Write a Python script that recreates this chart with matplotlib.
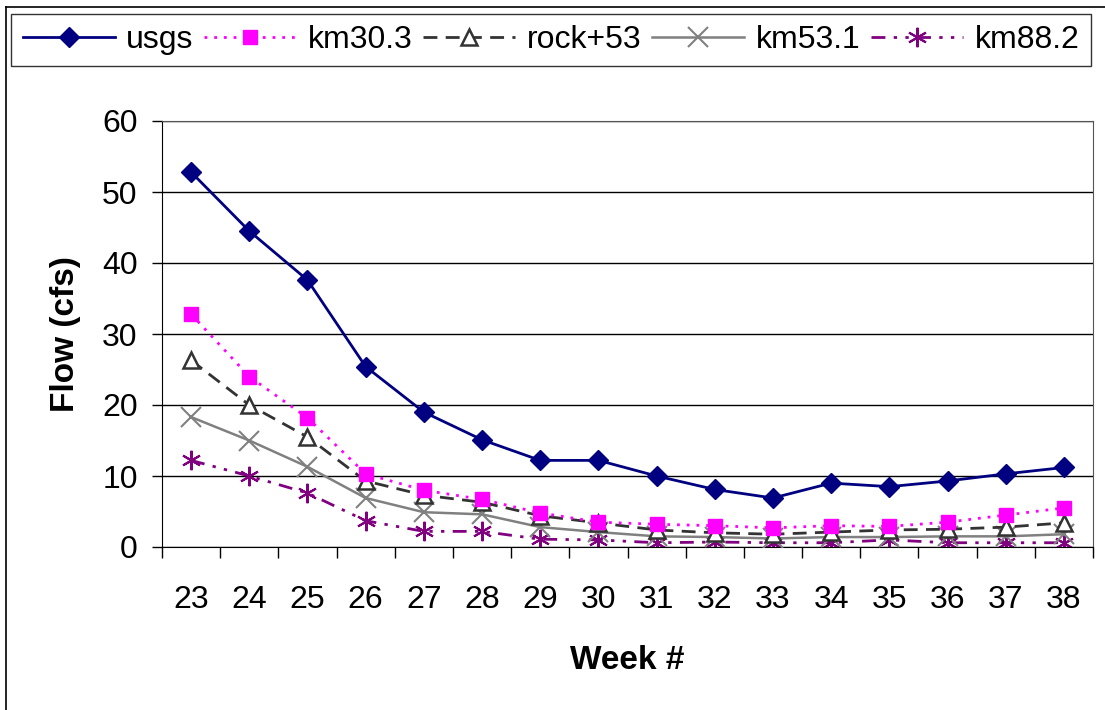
import matplotlib
matplotlib.use("Agg")
import matplotlib.pyplot as plt
from matplotlib.lines import Line2D

plt.rcParams['font.family'] = ['Liberation Sans', 'DejaVu Sans']

weeks = list(range(23, 39))
usgs = [52.8, 44.5, 37.6, 25.4, 19.0, 15.1, 12.2, 12.2, 10.0, 8.1, 6.9, 9.0, 8.5, 9.3, 10.3, 11.2]
km30_3 = [32.8, 24.0, 18.2, 10.3, 8.0, 6.7, 4.8, 3.5, 3.2, 3.0, 2.7, 3.0, 2.9, 3.5, 4.5, 5.5]
rock53 = [26.3, 20.0, 15.5, 9.3, 7.3, 6.3, 4.4, 3.4, 2.4, 2.0, 1.8, 2.1, 2.4, 2.5, 2.8, 3.4]
km53_1 = [18.3, 15.0, 11.3, 6.9, 4.9, 4.6, 2.8, 2.1, 1.5, 1.4, 1.2, 1.4, 1.4, 1.5, 1.5, 1.8]
km88_2 = [12.2, 10.0, 7.6, 3.7, 2.2, 2.2, 1.1, 1.0, 0.6, 0.7, 0.6, 0.6, 1.0, 0.6, 0.6, 0.6]

fig = plt.figure(figsize=(11.05, 7.10), dpi=100)
ax = fig.add_axes([162 / 1105, 1 - 547 / 710, (1093 - 162) / 1105, (547 - 121) / 710])

x = list(range(len(weeks)))
star = (6, 2, 0)
ax.plot(x, usgs, color='#000080', lw=2, marker='D', ms=10, label='usgs', zorder=6)
ax.plot(x, km30_3, color='#FF00FF', lw=2, ls=(0, (1, 2.5)), marker='s', ms=10,
        mec='#FF00FF', label='km30.3', zorder=5)
ax.plot(x, rock53, color='#333333', lw=2, ls=(0, (5, 3)), marker='^', ms=11,
        mfc='white', mec='#333333', mew=1.8, label='rock+53', zorder=4)
ax.plot(x, km53_1, color='#808080', lw=1.8, marker='x', ms=15, mew=1.5,
        label='km53.1', zorder=3)
ax.plot(x, km88_2, color='#800080', lw=2, ls=(0, (5, 3, 1.2, 3, 1.2, 3)), marker=star,
        ms=14, mew=1.5, mec='#800080', label='km88.2', zorder=2)

ax.set_xlim(-0.5, len(weeks) - 0.5)
ax.set_ylim(0, 60)
ax.set_yticks(range(0, 61, 10))
ax.set_xticks(x)
ax.set_xticklabels([str(w) for w in weeks])
ax.set_xticks([i - 0.5 for i in range(len(weeks) + 1)], minor=True)
ax.tick_params(axis='x', which='major', length=0, pad=27, labelsize=23)
ax.tick_params(axis='x', which='minor', length=8, width=1, direction='out')
ax.tick_params(axis='y', length=7.5, width=1, direction='out', pad=10, labelsize=23)
ax.yaxis.grid(True, color='black', lw=1)
ax.set_axisbelow(True)
for s in ['top', 'right']:
    ax.spines[s].set_color('#555555')
for s in ['left', 'bottom']:
    ax.spines[s].set_color('black')

ax.set_ylabel('Flow (cfs)', fontsize=24, fontweight='bold', labelpad=15)
ax.set_xlabel('Week #', fontsize=24, fontweight='bold', labelpad=22)

leg = fig.legend(loc='center', bbox_to_anchor=(551 / 1105, 1 - 40 / 710), ncol=5,
                 fontsize=23, frameon=True, fancybox=False, edgecolor='black',
                 handlelength=2.88, handletextpad=0.35, columnspacing=0.35,
                 borderpad=0.35, borderaxespad=0)
leg.get_frame().set_linewidth(1)

# outer chart border
fig.add_artist(Line2D([6 / 1105, 6 / 1105], [0, 1 - 7 / 710], color='black', lw=1.2))
fig.add_artist(Line2D([6 / 1105, 1], [1 - 7 / 710, 1 - 7 / 710], color='black', lw=1.2))

fig.savefig('out.png', dpi=100)
